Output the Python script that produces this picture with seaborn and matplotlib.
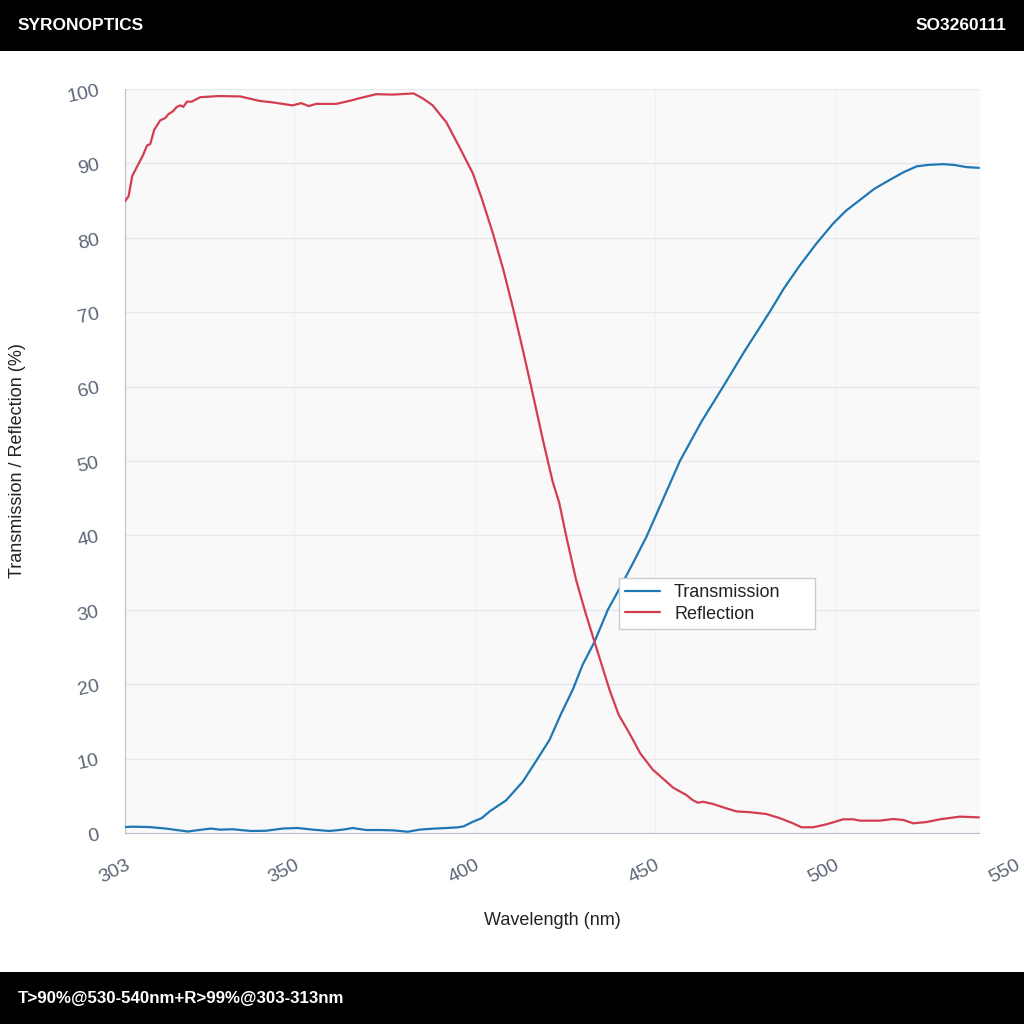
import pandas as pd
import matplotlib.pyplot as plt
import seaborn as sns

# Valores
wavelength_t = [303, 305, 309.7, 314.3, 320.4, 322.7, 326.9, 329.2, 332.9, 338, 342.1, 346.8,
                350.9, 355.1, 359.7, 363.4, 366.2, 369.9, 373.6, 377.3, 381.5, 384.7, 388.4,
                392.1, 395.4, 397, 399.5, 402, 404.2, 408.8, 411, 413.4, 417, 420.8, 424,
                427.3, 430, 433.3, 437, 440.3, 444, 447.7, 452, 457, 463, 469, 475, 482, 486,
                490.3, 495, 499.5, 503, 507, 511, 515.3, 519, 522.7, 526, 530, 533, 536.6, 540]
transmission = [0.8, 0.85, 0.8, 0.6, 0.2, 0.35, 0.6, 0.45, 0.5, 0.27, 0.3, 0.6,
                0.67, 0.45, 0.27, 0.45, 0.67, 0.4, 0.4, 0.36, 0.17, 0.45, 0.58,
                0.67, 0.76, 0.9, 1.5, 2.0, 2.9, 4.4, 5.6, 6.9, 9.6, 12.5, 16.0,
                19.3, 22.6, 25.7, 30.0, 32.9, 36.3, 39.8, 44.5, 50.0, 55.3, 60.0, 64.8, 70.1, 73.3,
                76.3, 79.3, 81.9, 83.6, 85.1, 86.6, 87.8, 88.8, 89.6, 89.8, 89.9, 89.8, 89.5, 89.4]

wavelength_r = [303, 304, 305, 306.6, 308, 309.1, 310, 311.1, 312.8, 314.2, 315, 316.3, 317.4,
                318.3, 319.2, 320.2, 321.5, 323.9, 329, 335, 340.3, 344, 349.5, 351.9, 354,
                356, 361.6, 365.3, 368, 372.7, 377.3, 383.1, 385.6, 388.4, 391.2, 392.1,
                395.8, 399.5, 402, 405.1, 408, 410.6, 413, 415.3, 419, 421.7, 423.5, 425.5,
                428.2, 430.8, 433.3, 437.5, 440, 443, 446, 449.5, 452.8, 455.1, 458.8, 460.6,
                462, 463.4, 466.2, 469, 472.7, 476.4, 481, 484.7, 488.4, 490.7, 494, 497.7,
                502.3, 505.1, 507, 512.5, 516.2, 519, 521.8, 525.5, 529.2, 534.7, 540]
reflection = [84.9, 85.6, 88.3, 89.8, 91.1, 92.4, 92.6, 94.5, 95.8, 96.1, 96.6, 97.0, 97.6,
              97.8, 97.6, 98.3, 98.3, 98.9, 99.05, 99.0, 98.4, 98.2, 97.8, 98.1, 97.7,
              98.0, 98.0, 98.4, 98.75, 99.3, 99.25, 99.4, 98.75, 97.8, 96.1, 95.6,
              92.2, 88.7, 85.3, 80.6, 75.7, 70.7, 65.8, 60.9, 52.8, 47.2, 44.4, 39.8,
              34.0, 29.6, 25.7, 19.2, 15.9, 13.4, 10.7, 8.5, 7.1, 6.1, 5.1, 4.4,
              4.07, 4.2, 3.9, 3.45, 2.9, 2.8, 2.55, 2.0, 1.3, 0.77, 0.77, 1.17,
              1.84, 1.84, 1.66, 1.66, 1.88, 1.75, 1.3, 1.48, 1.84, 2.2, 2.1]

x_ticks = [303, 350, 400, 450, 500, 550]
y_ticks = [0, 10, 20, 30, 40, 50, 60, 70, 80, 90, 100]

cores = {"Transmission": "#1f77b4", "Reflection": "#d43d51"}

dados = pd.concat([
    pd.DataFrame({"wavelength": wavelength_t, "valor": transmission, "serie": "Transmission"}),
    pd.DataFrame({"wavelength": wavelength_r, "valor": reflection, "serie": "Reflection"}),
], ignore_index=True)

sns.set_style("white")
plt.rcParams['font.family'] = ['Liberation Sans', 'DejaVu Sans']

fig = plt.figure(figsize=(10.24, 10.24), dpi=100)
ax = fig.add_axes([125 / 1024, 1 - 833 / 1024, 890 / 1024, 744 / 1024])
ax.set_facecolor("white")

x_fim = max(wavelength_t[-1], wavelength_r[-1])
ax.axvspan(303, x_fim, color="#f9f9fa", zorder=0)
ax.hlines(y_ticks, 303, x_fim, color="#e6e8ec", linewidth=1, zorder=1)
ax.vlines(x_ticks[1:], 0, 100, color="#eef0f3", linewidth=1, zorder=1)

sns.lineplot(data=dados, x="wavelength", y="valor", hue="serie", palette=cores,
             sort=False, estimator=None, linewidth=1.6, ax=ax, zorder=3)

ax.set_xlim(303, 550)
ax.set_ylim(0, 100)
ax.set_xticks(x_ticks)
ax.set_yticks(y_ticks)
ax.tick_params(axis="both", length=0, labelsize=14, labelcolor="#5b6677")
ax.tick_params(axis="x", pad=17)
ax.tick_params(axis="y", pad=19)
for lbl in ax.get_xticklabels():
    lbl.set_rotation(27)
    lbl.set_ha("right")
    lbl.set_va("top")
    lbl.set_rotation_mode("anchor")
for lbl in ax.get_yticklabels():
    lbl.set_rotation(12)
    lbl.set_rotation_mode("anchor")

for lado in ["top", "right"]:
    ax.spines[lado].set_visible(False)
ax.spines["left"].set_color("#b8c0cc")
ax.spines["bottom"].set_color("#b8c0cc")
ax.spines["bottom"].set_bounds(303, x_fim)

# rótulos centrados na área com dados
ax.set_xlabel("Wavelength (nm)", fontsize=13, color="#222222")
ax.set_ylabel("Transmission / Reflection (%)", fontsize=13, color="#222222")
ax.xaxis.set_label_coords((x_fim - 303) / (550 - 303) / 2, -0.106)
ax.yaxis.set_label_coords(-0.111, 0.5)

leg = ax.legend(loc="upper left", bbox_to_anchor=(0.555, 0.287, 0.220, 0.056), mode="expand",
                borderaxespad=0, fontsize=13, frameon=True, fancybox=False,
                edgecolor="#c8ccd2", handlelength=1.9, borderpad=0.35, labelspacing=0.25,
                handletextpad=0.8)
leg.get_frame().set_linewidth(1)
leg.get_frame().set_facecolor("white")
leg.get_frame().set_alpha(1)
for t in leg.get_texts():
    t.set_color("#222222")

# faixas pretas de cabeçalho e rodapé
topo = fig.add_axes([0, 1 - 51 / 1024, 1, 51 / 1024])
topo.set_facecolor("black")
topo.set_xticks([])
topo.set_yticks([])
for s in topo.spines.values():
    s.set_visible(False)
topo.text(18 / 1024, 0.5, "SYRONOPTICS", color="white", fontsize=12.5, fontweight="bold",
          va="center", ha="left", transform=topo.transAxes)
topo.text(1 - 18 / 1024, 0.5, "SO3260111", color="white", fontsize=12.5, fontweight="bold",
          va="center", ha="right", transform=topo.transAxes)

rodape = fig.add_axes([0, 0, 1, 52 / 1024])
rodape.set_facecolor("black")
rodape.set_xticks([])
rodape.set_yticks([])
for s in rodape.spines.values():
    s.set_visible(False)
rodape.text(18 / 1024, 0.5, "T>90%@530-540nm+R>99%@303-313nm", color="white", fontsize=12.2,
            fontweight="bold", va="center", ha="left", transform=rodape.transAxes)

fig.savefig("out.png", dpi=100, facecolor="white")
